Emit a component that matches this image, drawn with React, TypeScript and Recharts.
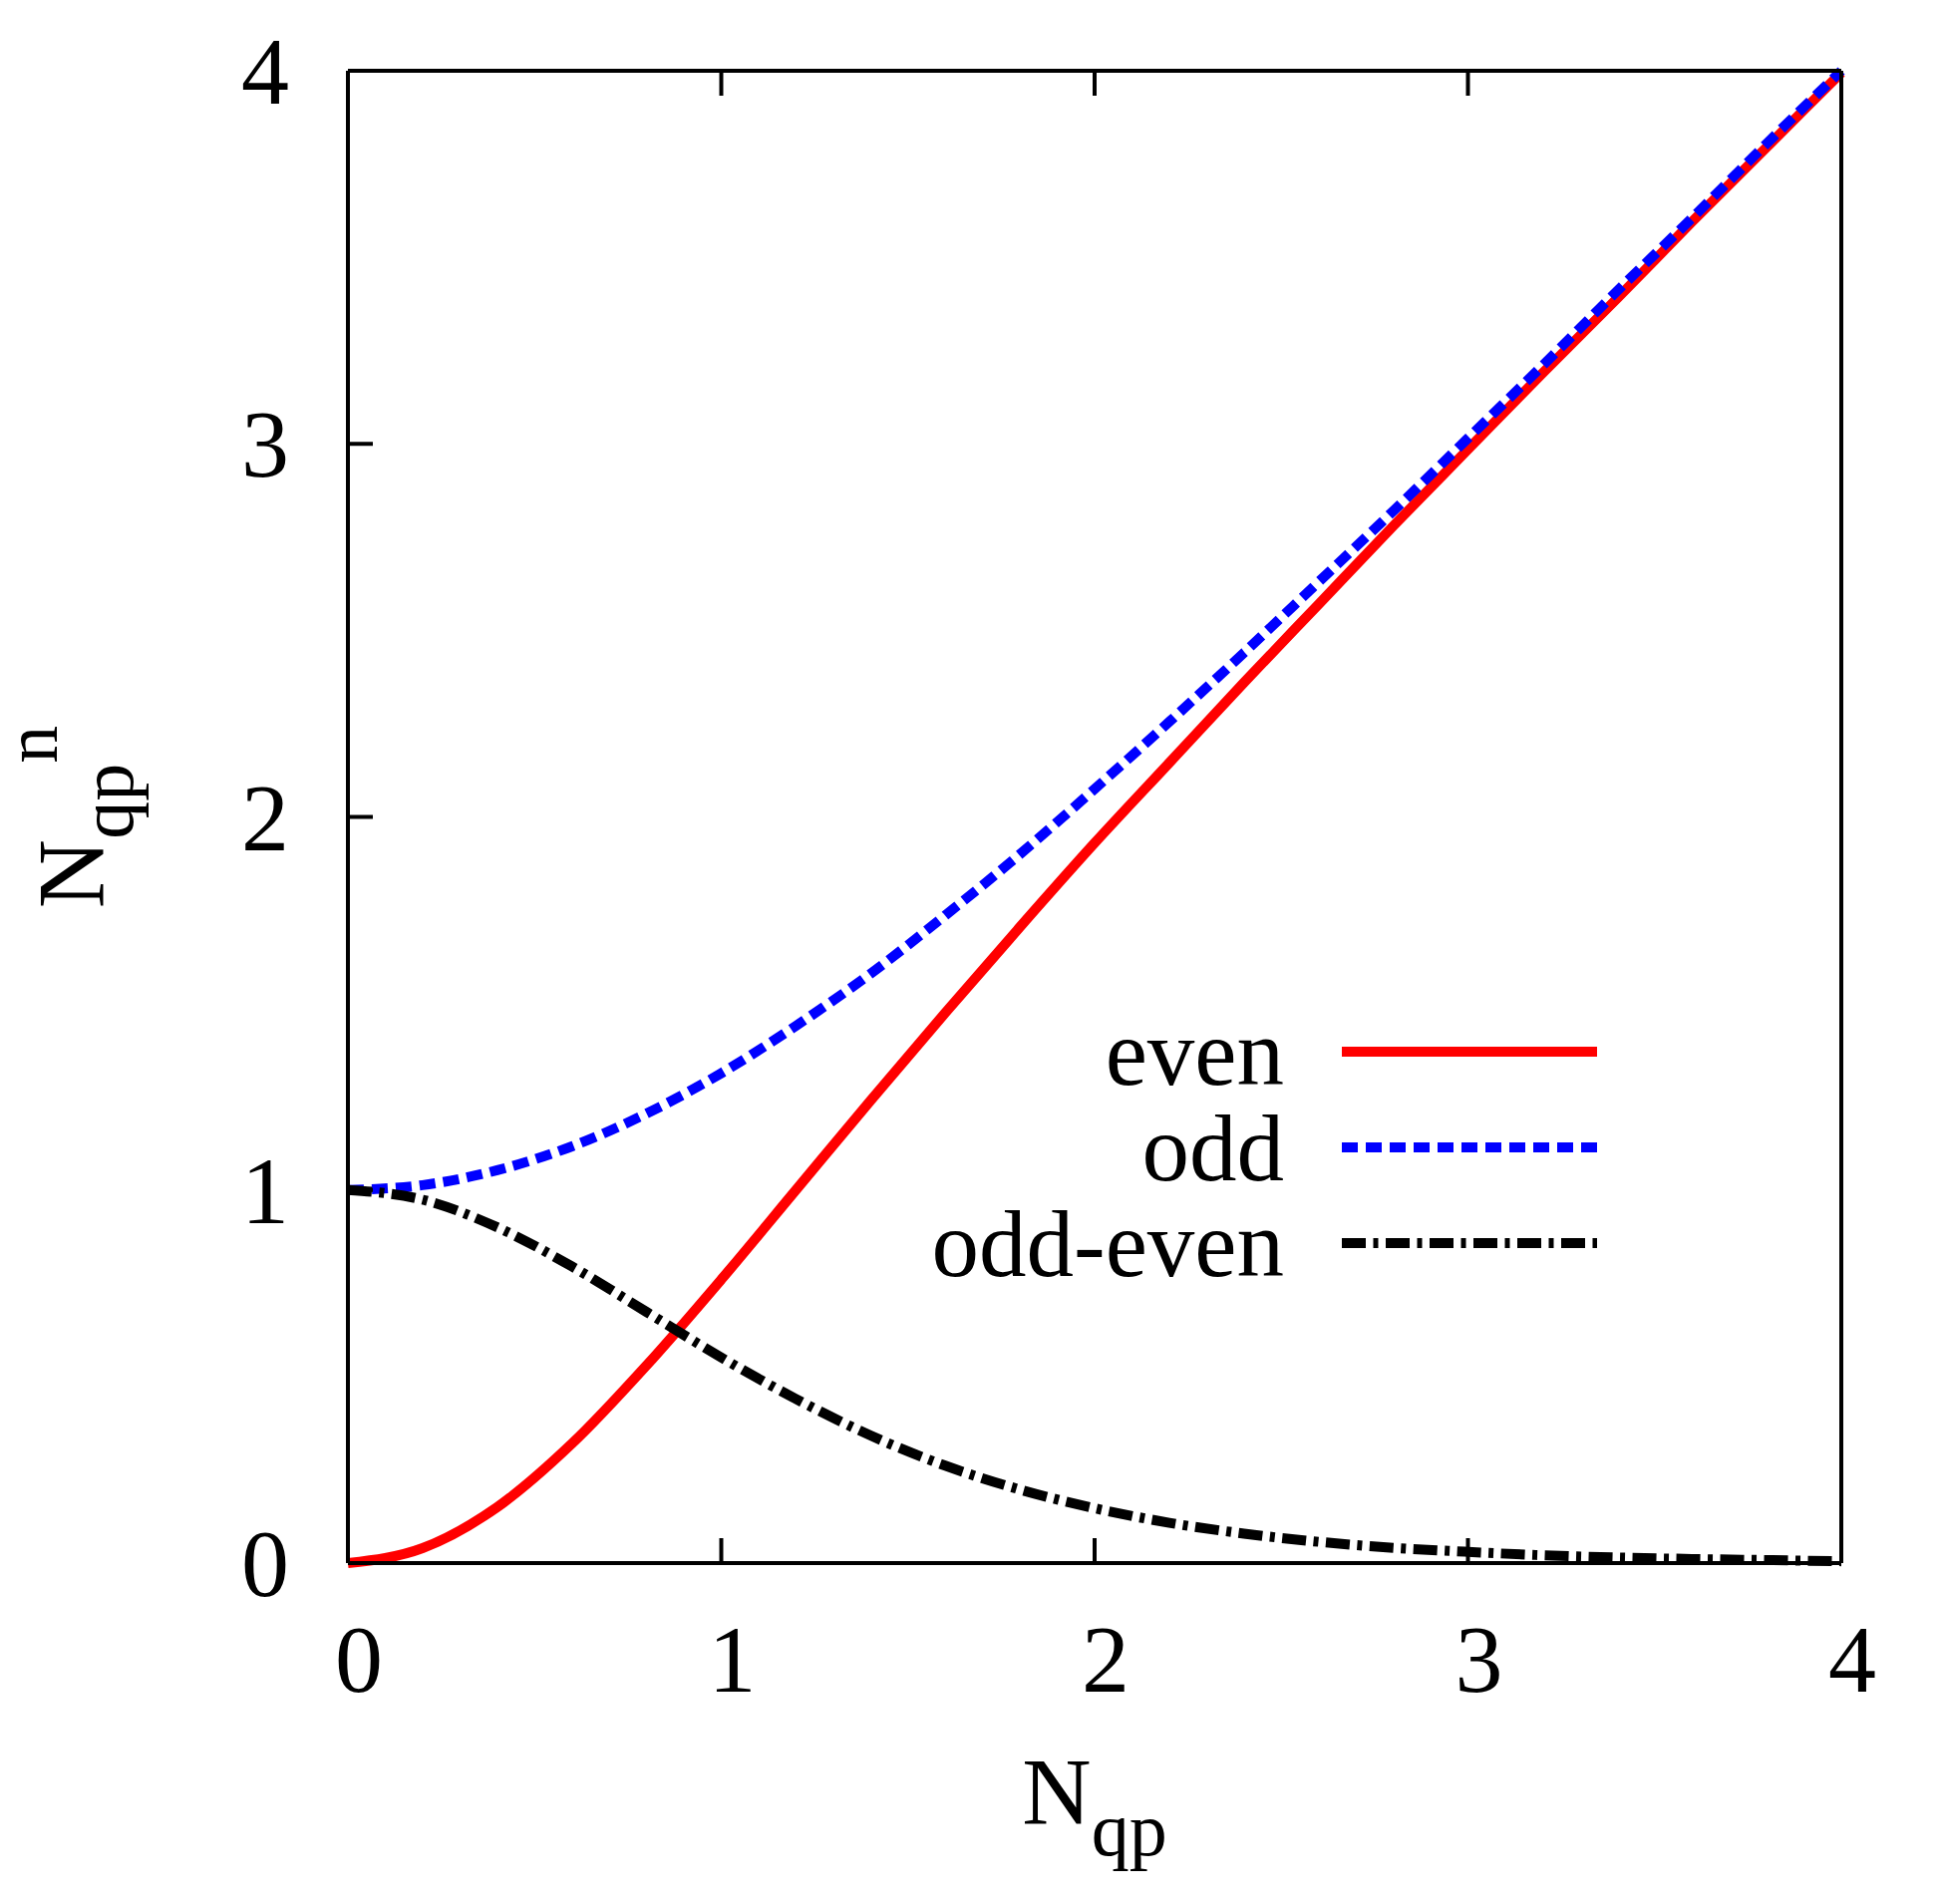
import React from "react";
import { LineChart, Line, XAxis, YAxis, Legend } from "recharts";

const nqp = [0, 0.2, 0.4, 0.6, 0.8, 1.0, 1.2, 1.4, 1.6, 1.8, 2.0, 2.2, 2.4, 2.6, 2.8, 3.0, 3.2, 3.4, 3.6, 3.8, 4.0];
const evenVals = [0, 0.04, 0.15, 0.32, 0.53, 0.76, 1.0, 1.24, 1.475, 1.705, 1.93, 2.145, 2.36, 2.57, 2.78, 2.985, 3.19, 3.39, 3.595, 3.795, 3.995];
const oddVals = [1.0, 1.013, 1.053, 1.117, 1.205, 1.313, 1.44, 1.58, 1.736, 1.9, 2.075, 2.255, 2.44, 2.63, 2.82, 3.015, 3.21, 3.41, 3.605, 3.805, 4.0];
const diffVals = [1.0, 0.974, 0.9, 0.795, 0.673, 0.551, 0.44, 0.342, 0.261, 0.197, 0.147, 0.108, 0.079, 0.057, 0.041, 0.03, 0.021, 0.015, 0.011, 0.008, 0.005];

const xTicks = [0, 1, 2, 3, 4];
const yTicks = [0, 1, 2, 3, 4];

const series = [
  { key: "even", name: "even", color: "#ff0000", dash: undefined as string | undefined },
  { key: "odd", name: "odd", color: "#0000ff", dash: "16 8" },
  { key: "diff", name: "odd-even", color: "#000000", dash: "24 7.5 5 7.5" },
];

const data = nqp.map((n, i) => ({
  n,
  even: evenVals[i],
  odd: oddVals[i],
  diff: diffVals[i],
}));

const FONT = "'Liberation Serif', 'Times New Roman', serif";

const XTick = ({ x, y, payload }: any) => (
  <text x={x + 11} y={y} dy="0.71em" textAnchor="middle" fontFamily={FONT} fontSize={96} fill="#000">
    {payload.value}
  </text>
);

const YTick = ({ x, y, payload }: any) => (
  <text x={x} y={y} dy={33} textAnchor="end" fontFamily={FONT} fontSize={96} fill="#000">
    {payload.value}
  </text>
);

const NoTick = () => <g />;

const XTitle = ({ viewBox }: any) => {
  const cx = viewBox.x + viewBox.width / 2;
  return (
    <text x={cx} y={viewBox.y + 262} textAnchor="middle" fontFamily={FONT} fontSize={96} fill="#000">
      <tspan>N</tspan>
      <tspan dy={31} fontSize={76}>qp</tspan>
    </text>
  );
};

const YTitle = ({ viewBox }: any) => {
  const cy = viewBox.y + viewBox.height / 2;
  const bx = 104;
  return (
    <text
      x={bx}
      y={cy}
      transform={`rotate(-90, ${bx}, ${cy})`}
      textAnchor="middle"
      fontFamily={FONT}
      fontSize={96}
      fill="#000"
    >
      <tspan>N</tspan>
      <tspan dy={29} fontSize={76}>qp</tspan>
      <tspan dy={-76} fontSize={76}>n</tspan>
    </text>
  );
};

const LegendBox = () => (
  <svg width={520} height={320} style={{ overflow: "visible" }}>
    {series.map((s, i) => (
      <g key={s.key}>
        <text x={188} y={108 + i * 96} textAnchor="end" fontFamily={FONT} fontSize={95} fill="#000">
          {s.name}
        </text>
        <line
          x1={246}
          x2={502}
          y1={75 + i * 96}
          y2={75 + i * 96}
          stroke={s.color}
          strokeWidth={10}
          strokeDasharray={s.dash}
        />
      </g>
    ))}
  </svg>
);

const axisStyle = {
  stroke: "#000",
  strokeWidth: 4,
  axisLine: { stroke: "#000", strokeWidth: 4 },
  tickLine: { stroke: "#000", strokeWidth: 4 },
  tickSize: -25,
};

export default function App() {
  return (
    <div style={{ position: "absolute", left: 0, top: 0, width: 1945, height: 1910, background: "#fff" }}>
      <LineChart width={1945} height={1910} data={data} margin={{ top: 70, right: 97, left: 269, bottom: 242 }}>
        <XAxis
          dataKey="n"
          type="number"
          domain={[0, 4]}
          ticks={xTicks}
          height={100}
          {...axisStyle}
          tickMargin={86}
          tick={<XTick />}
          label={<XTitle />}
        />
        <XAxis
          xAxisId="top"
          dataKey="n"
          orientation="top"
          type="number"
          domain={[0, 4]}
          ticks={xTicks}
          interval={0}
          height={1}
          {...axisStyle}
          tick={<NoTick />}
        />
        <YAxis
          type="number"
          domain={[0, 4]}
          ticks={yTicks}
          width={80}
          {...axisStyle}
          tickMargin={84}
          tick={<YTick />}
          label={<YTitle />}
        />
        <YAxis
          yAxisId="right"
          orientation="right"
          type="number"
          domain={[0, 4]}
          ticks={yTicks}
          interval={0}
          width={1}
          {...axisStyle}
          tick={<NoTick />}
        />
        {series.map((s) => (
          <Line
            key={s.key}
            dataKey={s.key}
            name={s.name}
            type="monotone"
            stroke={s.color}
            strokeWidth={10}
            strokeDasharray={s.dash}
            dot={false}
            activeDot={false}
            isAnimationActive={false}
          />
        ))}
        <Legend
          layout="vertical"
          align="center"
          verticalAlign="middle"
          content={<LegendBox />}
          wrapperStyle={{ left: 1100, top: 980, width: 520, height: 320 }}
        />
      </LineChart>
    </div>
  );
}
